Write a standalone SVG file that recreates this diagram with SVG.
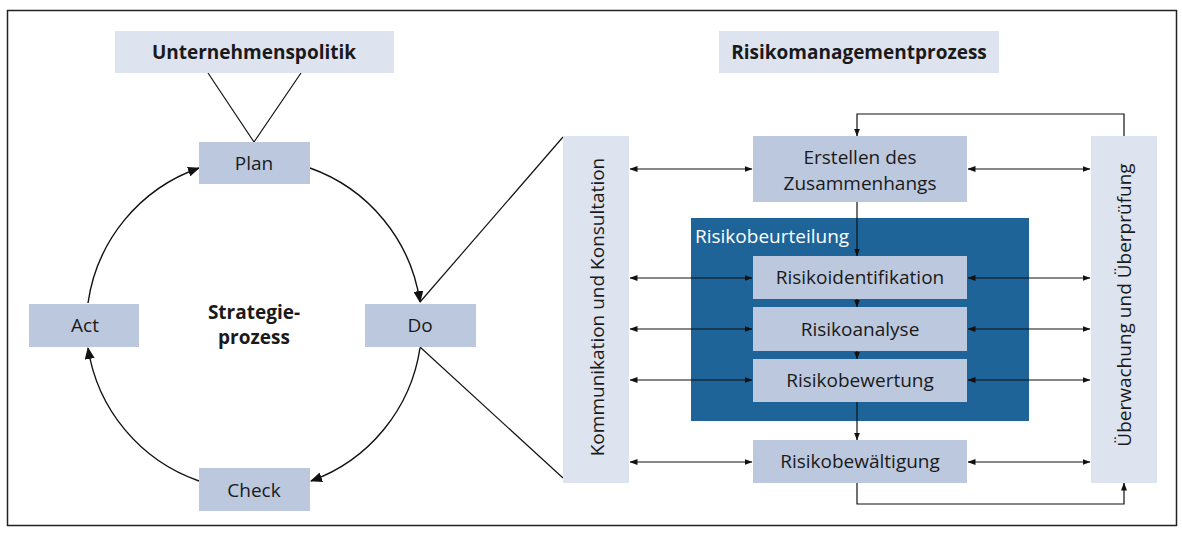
<svg xmlns="http://www.w3.org/2000/svg" width="1182" height="533" viewBox="0 0 1182 533">
<defs>
<style>
.t{font-family:"Open Sans","Liberation Sans",sans-serif;font-size:19px;fill:#1a1a1a;text-anchor:middle}
.b{font-weight:bold}
.light{fill:#dde3ef}
.mid{fill:#bcc8de}
.ln{fill:none;stroke:#111;stroke-width:1.4}
.th{fill:none;stroke:#111;stroke-width:1.2}
</style>
<marker id="big" viewBox="0 0 12 10" refX="11" refY="5" markerWidth="12" markerHeight="10" markerUnits="userSpaceOnUse" orient="auto">
<path d="M0,0 L12,5 L0,10 Z" fill="#111"/>
</marker>
<marker id="sm" viewBox="0 0 8 6" refX="7.5" refY="3" markerWidth="8" markerHeight="6" markerUnits="userSpaceOnUse" orient="auto-start-reverse">
<path d="M0,0 L8,3 L0,6 Z" fill="#111"/>
</marker>
</defs>
<rect x="0" y="0" width="1182" height="533" fill="#fff"/>
<rect x="7.5" y="10.5" width="1169" height="515" fill="none" stroke="#222" stroke-width="1.5"/>

<g id="risikobeurteilung">
<rect x="691" y="218" width="338" height="203" fill="#1f6499"/>
<text x="695" y="243" style="font-family:'Open Sans','Liberation Sans',sans-serif;font-size:19px;fill:#fff">Risikobeurteilung</text>
</g>

<g id="connectors">
<path class="th" d="M208,73 L254,142 L301,73"/>
<path class="th" d="M420,302 L563,137"/>
<path class="th" d="M420,347 L563,478"/>
<path class="ln" marker-end="url(#big)" d="M88,303 A168,168 0 0 1 199,168"/>
<path class="ln" marker-end="url(#big)" d="M310,168 A168,168 0 0 1 420,302"/>
<path class="ln" marker-end="url(#big)" d="M420,348 A168,168 0 0 1 311,481"/>
<path class="ln" marker-end="url(#big)" d="M199,481 A168,168 0 0 1 88,348"/>

<path class="th" marker-end="url(#sm)" d="M1124,136 L1124,114 L857,114 L857,136"/>
<path class="th" marker-end="url(#sm)" d="M857,483 L857,504 L1124,504 L1124,483"/>
<path class="th" marker-end="url(#sm)" d="M857,202 L857,256"/>
<path class="th" marker-end="url(#sm)" d="M857,299 L857,307"/>
<path class="th" marker-end="url(#sm)" d="M857,351 L857,359"/>
<path class="th" marker-end="url(#sm)" d="M857,402 L857,440"/>

<g marker-start="url(#sm)" marker-end="url(#sm)">
<path class="th" d="M630,169 L752,169"/>
<path class="th" d="M630,278 L752,278"/>
<path class="th" d="M630,329 L752,329"/>
<path class="th" d="M630,380 L752,380"/>
<path class="th" d="M630,462 L752,462"/>
<path class="th" d="M968,169 L1090,169"/>
<path class="th" d="M968,278 L1090,278"/>
<path class="th" d="M968,329 L1090,329"/>
<path class="th" d="M968,380 L1090,380"/>
<path class="th" d="M968,462 L1090,462"/>
</g>
</g>

<g id="unternehmenspolitik">
<rect class="light" x="115" y="31" width="279" height="42"/>
<text class="t b" x="254" y="59">Unternehmenspolitik</text>
</g>
<g id="plan">
<rect class="mid" x="199" y="142" width="111" height="42"/>
<text class="t" x="254" y="170">Plan</text>
</g>
<g id="do">
<rect class="mid" x="365" y="304" width="111" height="43"/>
<text class="t" x="420" y="332">Do</text>
</g>
<g id="check">
<rect class="mid" x="199" y="468" width="111" height="43"/>
<text class="t" x="254" y="497">Check</text>
</g>
<g id="act">
<rect class="mid" x="29" y="304" width="110" height="43"/>
<text class="t" x="85" y="332">Act</text>
</g>
<g id="strategieprozess">
<text class="t b" x="254" y="319">Strategie-</text>
<text class="t b" x="254" y="344">prozess</text>
</g>

<g id="risikomanagementprozess">
<rect class="light" x="719" y="31" width="280" height="42"/>
<text class="t b" x="859" y="59">Risikomanagementprozess</text>
</g>
<g id="kommunikation">
<rect class="light" x="563" y="136" width="66" height="347"/>
<text class="t" transform="translate(604,307) rotate(-90)">Kommunikation und Konsultation</text>
</g>
<g id="ueberwachung">
<rect class="light" x="1091" y="136" width="66" height="347"/>
<text class="t" transform="translate(1131,305) rotate(-90)">Überwachung und Überprüfung</text>
</g>
<g id="erstellen">
<rect class="mid" x="753" y="136" width="214" height="66"/>
<text class="t" x="860" y="164">Erstellen des</text>
<text class="t" x="860" y="190">Zusammenhangs</text>
</g>
<g id="risikoidentifikation">
<rect class="mid" x="753" y="256" width="214" height="43"/>
<text class="t" x="860" y="284">Risikoidentifikation</text>
</g>
<g id="risikoanalyse">
<rect class="mid" x="753" y="307" width="214" height="44"/>
<text class="t" x="860" y="336">Risikoanalyse</text>
</g>
<g id="risikobewertung">
<rect class="mid" x="753" y="359" width="214" height="43"/>
<text class="t" x="860" y="387">Risikobewertung</text>
</g>
<g id="risikobewaeltigung">
<rect class="mid" x="753" y="440" width="214" height="43"/>
<text class="t" x="860" y="468">Risikobewältigung</text>
</g>
</svg>
